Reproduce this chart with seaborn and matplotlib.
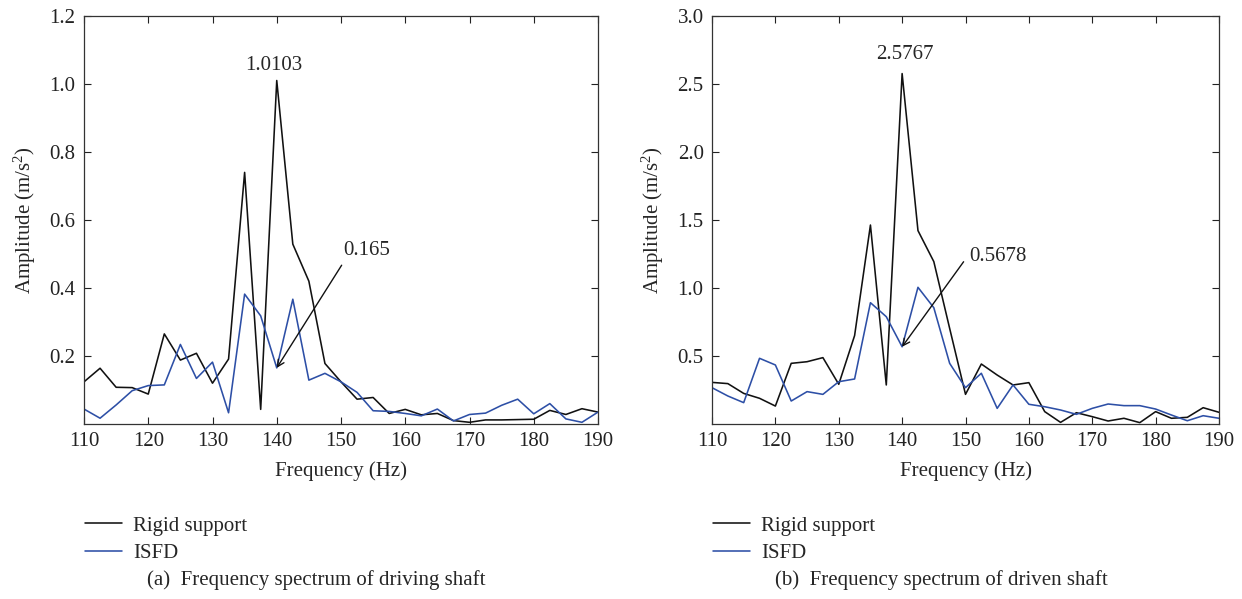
import numpy as np
import pandas as pd
import matplotlib
matplotlib.use("Agg")
import matplotlib.pyplot as plt
import seaborn as sns

freq = [110 + 2.5 * i for i in range(33)]

rigid_a = [0.124, 0.164, 0.108, 0.107, 0.088, 0.265, 0.188, 0.208, 0.120, 0.191,
           0.740, 0.043, 1.0103, 0.529, 0.420, 0.178, 0.124, 0.073, 0.078, 0.031,
           0.043, 0.027, 0.031, 0.010, 0.005, 0.012, 0.012, 0.013, 0.014, 0.040,
           0.028, 0.045, 0.035]
isfd_a = [0.044, 0.017, 0.056, 0.098, 0.113, 0.115, 0.234, 0.134, 0.182, 0.033,
          0.382, 0.318, 0.165, 0.367, 0.129, 0.149, 0.124, 0.093, 0.039, 0.037,
          0.031, 0.024, 0.044, 0.009, 0.028, 0.032, 0.055, 0.073, 0.030, 0.060,
          0.015, 0.005, 0.035]

rigid_b = [0.306, 0.297, 0.225, 0.189, 0.132, 0.446, 0.458, 0.488, 0.292, 0.650,
           1.463, 0.287, 2.5767, 1.422, 1.194, 0.703, 0.218, 0.441, 0.360, 0.287,
           0.304, 0.091, 0.012, 0.083, 0.054, 0.022, 0.042, 0.010, 0.091, 0.042,
           0.049, 0.120, 0.086]
isfd_b = [0.267, 0.206, 0.157, 0.483, 0.434, 0.169, 0.238, 0.218, 0.311, 0.331,
          0.892, 0.789, 0.5678, 1.005, 0.855, 0.446, 0.267, 0.373, 0.115, 0.287,
          0.145, 0.127, 0.103, 0.071, 0.115, 0.147, 0.135, 0.135, 0.110, 0.066,
          0.024, 0.061, 0.042]

series_names = ["Rigid support", "ISFD"]
captions = ["(a)  Frequency spectrum of driving shaft",
            "(b)  Frequency spectrum of driven shaft"]
peak_labels = ["1.0103", "2.5767"]
arrow_labels = ["0.165", "0.5678"]
xticks = [110, 120, 130, 140, 150, 160, 170, 180, 190]
yticks_a = [0.2, 0.4, 0.6, 0.8, 1.0, 1.2]
yticks_b = [0.5, 1.0, 1.5, 2.0, 2.5, 3.0]

sns.set_style("ticks")
plt.rcParams["font.family"] = ["Liberation Serif", "DejaVu Serif"]
plt.rcParams["mathtext.default"] = "regular"
plt.rcParams["mathtext.fontset"] = "stix"

FS = 15
colors = {"Rigid support": "#111111", "ISFD": "#2d4fa6"}

fig = plt.figure(figsize=(12.42, 5.99), dpi=100)
W, H = 1242, 599
axes_px = [(84, 514), (712, 507)]
top_px, bot_px = 16, 424

panels = [
    (rigid_a, isfd_a, yticks_a, 1.2, (139.6, 1.055), (140, 0.165), (150.1, 0.467), (0.3, 0.044)),
    (rigid_b, isfd_b, yticks_b, 3.0, (140.4, 2.715), (140, 0.5678), (149.7, 1.193), (0.9, 0.037)),
]

for i, (rig, isf, yt, ymax, peak_txt, tip, start, off) in enumerate(panels):
    left, width = axes_px[i]
    ax = fig.add_axes([left / W, 1 - bot_px / H, width / W, (bot_px - top_px) / H])
    df = pd.DataFrame({
        "Frequency": freq * 2,
        "Amplitude": rig + isf,
        "Series": [series_names[0]] * len(freq) + [series_names[1]] * len(freq),
    })
    sns.lineplot(data=df, x="Frequency", y="Amplitude", hue="Series",
                 palette=colors, ax=ax, linewidth=1.15, legend=True)
    ax.set_xlim(110, 190)
    ax.set_ylim(0, ymax)
    ax.set_xticks(xticks)
    ax.set_yticks(yt)
    ax.set_yticklabels(["%.1f" % v for v in yt])
    ax.tick_params(direction="in", top=True, right=True, length=5, width=0.8,
                   labelsize=FS, colors="#222222", pad=6)
    for s in ax.spines.values():
        s.set_linewidth(0.9)
        s.set_color("#333333")
    ax.set_xlabel("Frequency (Hz)", fontsize=FS, labelpad=7)
    ax.set_ylabel("Amplitude (m/s$^2$)", fontsize=FS, labelpad=8)

    ax.text(peak_txt[0], peak_txt[1], peak_labels[i], fontsize=FS,
            ha="center", va="center")
    ax.annotate("", xy=tip, xytext=start,
                arrowprops=dict(arrowstyle="->", color="#111111", lw=1.0,
                                shrinkA=0, shrinkB=0, mutation_scale=12))
    ax.text(start[0] + off[0], start[1] + off[1], arrow_labels[i],
            fontsize=FS, ha="left", va="center")

    handles, labels = ax.get_legend_handles_labels()
    ax.legend(handles, labels, loc="upper left", frameon=False, fontsize=FS,
              bbox_to_anchor=(-0.014, -0.205), borderaxespad=0, handlelength=1.75,
              handletextpad=0.55, labelspacing=0.4)
    fig.text((left + 63) / W, 1 - 580 / H, captions[i], fontsize=FS,
             ha="left", va="center")

fig.savefig("out.png", dpi=100)
